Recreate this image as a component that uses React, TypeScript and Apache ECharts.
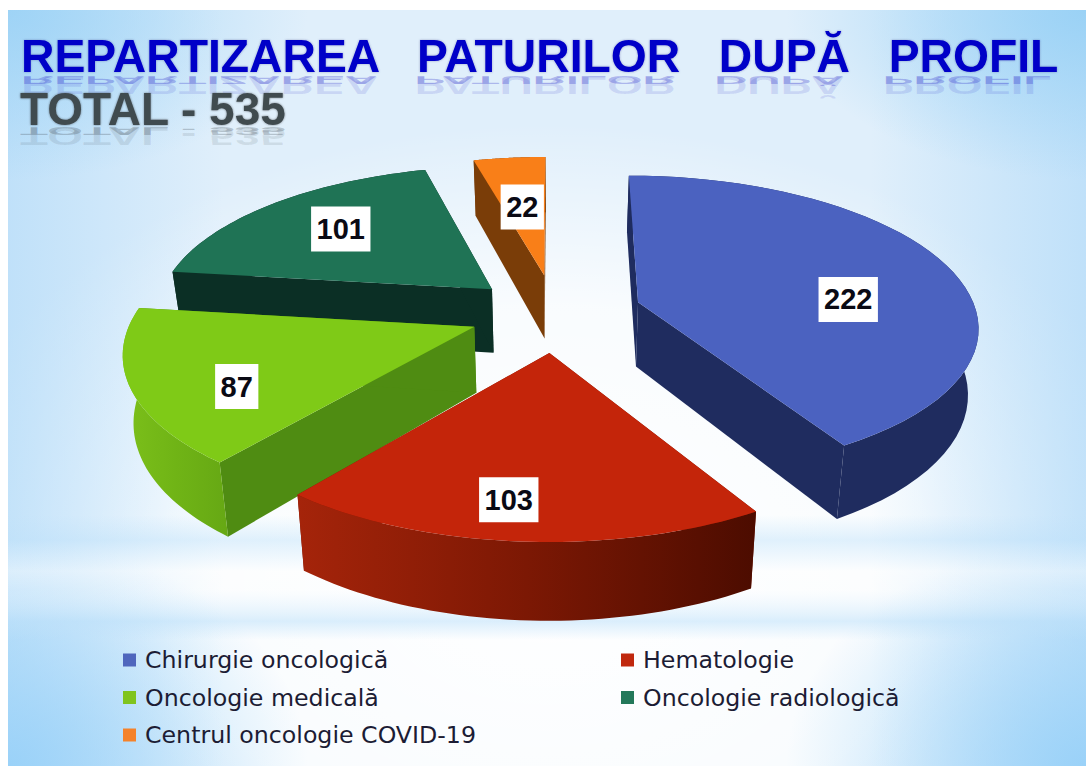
import React, { useEffect, useRef } from "react";
import * as echarts from "echarts";

const categories = ["Chirurgie oncologică", "Hematologie", "Oncologie medicală", "Oncologie radiologică", "Centrul oncologie COVID-19"];
const values = [222, 103, 87, 101, 22];
const titleText = "REPARTIZAREA   PATURILOR   DUPĂ   PROFIL";
const totalText = "TOTAL - 535";

const topColors = ["#4b62c0", "#c4250a", "#7fca17", "#1f7355", "#f97f18"];
const legendColors = ["#4f66bd", "#c0280e", "#80c41e", "#23785a", "#f4822a"];
const sideColors = ["#1f2c5f", "#7a1704", "#4f8c12", "#0b2f25", "#7a3d08"];
const wallFrom = ["#1f2c5f", "#a5240a", "#7cc01a", "#0b2f25", "#7a3d08"];
const wallMid = ["#1f2c5f", "#7c1804", "#70b416", "#0b2f25", "#7a3d08"];
const wallTo = ["#1f2c5f", "#4c0c00", "#66a814", "#0b2f25", "#7a3d08"];
const seriesZ = [1, 3, 2, 1, 1];
const explode = [0.22, 0.22, 0.22, 0.22, 0.22];
const sliceScale = [0.96, 0.97, 0.97, 0.955, 0.94];
const nudgeX = [9, 0, -8, -6, -1];
const nudgeY = [-7, 0, -4, -7, -10];
const labelAngles = [88.3, 187, 240, 312.3, 352];
const labelRadii = [0.63, 0.81, 0.736, 0.678, 0.55];

const CX = 555, CY = 318, RX = 352, RY = 154, PERS = 0.15, DEPTH = 65, SHRINK = 0.975;
const total = values.reduce((a, b) => a + b, 0);
const rad = (d: number) => (d * Math.PI) / 180;

function project(X: number, Y: number) {
  const s = 1 / (1 + PERS * Y);
  return { x: CX + RX * X * s, y: CY - RY * Y * s, s };
}
function lower(p: { x: number; y: number; s: number }) {
  return [CX + (p.x - CX) * SHRINK, p.y + DEPTH * Math.pow(p.s, 0.95)];
}

function sliceItem(i: number) {
  return (_params: any, api: any) => {
    const v = api.value(0);
    let acc = 0;
    for (let k = 0; k < i; k++) acc += values[k];
    const a0 = (acc / total) * 360;
    const a1 = a0 + (v / total) * 360;
    const mid = rad((a0 + a1) / 2);
    const ox = explode[i] * Math.sin(mid), oy = explode[i] * Math.cos(mid);
    const base = project(ox, oy);
    const place = (p: any) => ({
      x: base.x + nudgeX[i] + sliceScale[i] * (p.x - base.x),
      y: base.y + nudgeY[i] + sliceScale[i] * (p.y - base.y),
      s: p.s,
    });
    const arc: any[] = [];
    for (let a = a0; a <= a1 + 1e-6; a += (a1 - a0) / 48) {
      arc.push(place(project(ox + Math.sin(rad(a)), oy + Math.cos(rad(a)))));
    }
    const apex = place(base);
    const P = (p: any) => [p.x, p.y];
    const first = arc[0], last = arc[arc.length - 1];
    const wall = [...arc.map(P), ...arc.slice().reverse().map(lower)];
    const la = rad(labelAngles[i]);
    const lp = place(project(ox + labelRadii[i] * Math.sin(la), oy + labelRadii[i] * Math.cos(la)));
    return {
      type: "group",
      children: [
        { type: "polygon", shape: { points: [P(apex), P(first), lower(first), lower(apex)] }, style: { fill: sideColors[i] } },
        { type: "polygon", shape: { points: [P(apex), P(last), lower(last), lower(apex)] }, style: { fill: sideColors[i] } },
        { type: "polygon", shape: { points: wall }, style: { fill: new echarts.graphic.LinearGradient(0, 0, 1, 0, [{ offset: 0, color: wallFrom[i] }, { offset: 0.5, color: wallMid[i] }, { offset: 1, color: wallTo[i] }]) } },
        { type: "polygon", shape: { points: [P(apex), ...arc.map(P)] }, style: { fill: topColors[i] } },
        {
          type: "text", x: lp.x, y: lp.y, z2: 50,
          style: { text: String(v), font: "bold 29px 'Liberation Sans'", fill: "#0a0a14", align: "center", verticalAlign: "middle", backgroundColor: "#fff", padding: [9, 5.5, 7, 5.5] },
        },
      ],
    };
  };
}

export default function App() {
  const ref = useRef<HTMLDivElement>(null);
  useEffect(() => {
    document.body.style.margin = "0";
    const chart = echarts.init(ref.current!, undefined, { renderer: "svg" });
    const W = 1078, H = 756;
    const full = { x: 8, y: 10, width: W, height: H };
    const bg = (z: number, shape: any, fill: any) => ({ type: "rect", z, silent: true, shape, style: { fill } });
    const lin = (x: number, y: number, x2: number, y2: number, stops: [number, string][]) =>
      new echarts.graphic.LinearGradient(x, y, x2, y2, stops.map(([offset, color]) => ({ offset, color })));
    const corner = (z: number, x: number, y: number, w: number, h: number, cx: number, cy: number, c: string) =>
      bg(z, { x, y, width: w, height: h }, new echarts.graphic.RadialGradient(cx, cy, 1, [{ offset: 0, color: c }, { offset: 1, color: c.replace(/[\d.]+\)$/, "0)") }]));
    const reflect = (text: string, x: number, base: number, rgb: string, s: number, a: number) => ({
      type: "text", x, y: base - 6 * s, scaleY: -s, z: 1, silent: true,
      style: { text, font: "bold 46px 'Liberation Sans'", verticalAlign: "bottom", fill: `rgba(${rgb},${a})` },
    });
    chart.setOption({
      animation: false,
      backgroundColor: "#fff",
      title: [
        { text: titleText, left: 21, top: 33, padding: 0, textStyle: { fontFamily: "Liberation Sans", fontWeight: "bold", fontSize: 46.3, color: "#0000c8", textShadowColor: "rgba(40,40,120,.4)", textShadowBlur: 2 } },
        { text: totalText, left: 20, top: 86, padding: 0, textStyle: { fontFamily: "Liberation Sans", fontWeight: "bold", fontSize: 46, color: "#414b50", textShadowColor: "rgba(30,30,30,.45)", textShadowBlur: 2 } },
      ],
      legend: [
        { data: [categories[0], categories[2], categories[4]], left: 118, top: 643, orient: "vertical", itemWidth: 13, itemHeight: 13, itemGap: 13.5, icon: "rect", textStyle: { fontFamily: "DejaVu Sans", fontSize: 23.7, color: "#1c1c34", padding: [0, 0, 0, 4] }, selectedMode: false },
        { data: [categories[1], categories[3]], left: 616, top: 643, orient: "vertical", itemWidth: 13, itemHeight: 13, itemGap: 13.5, icon: "rect", textStyle: { fontFamily: "DejaVu Sans", fontSize: 23.7, color: "#1c1c34", padding: [0, 0, 0, 4] }, selectedMode: false },
      ],
      graphic: [
        bg(-20, full, "#e0effb"),
        bg(-19, full, new echarts.graphic.RadialGradient(0.5, 0.75, 0.6, [{ offset: 0, color: "rgba(255,255,255,1)" }, { offset: 0.6, color: "rgba(255,255,255,.8)" }, { offset: 1, color: "rgba(255,255,255,0)" }])),
        bg(-18, full, lin(0, 0, 1, 0, [[0, "rgba(170,215,248,.6)"], [0.2, "rgba(170,215,248,0)"], [0.8, "rgba(170,215,248,0)"], [1, "rgba(170,215,248,.6)"]])),
        corner(-17, 8, 10, 300, 170, 0, 0, "rgba(150,208,245,.8)"),
        corner(-17, 786, 10, 300, 170, 1, 0, "rgba(150,208,245,.9)"),
        corner(-17, 8, 540, 300, 226, 0, 1, "rgba(150,208,248,.9)"),
        corner(-17, 786, 540, 300, 226, 1, 1, "rgba(150,208,248,.9)"),
        bg(-16, { x: 8, y: 515, width: W, height: 125 }, lin(0, 0, 0, 1, [[0, "rgba(190,225,250,0)"], [0.2, "rgba(190,225,250,.45)"], [0.45, "rgba(255,255,255,.45)"], [0.6, "rgba(255,255,255,.3)"], [0.85, "rgba(190,225,250,.55)"], [1, "rgba(190,225,250,0)"]])),
        reflect(titleText, 21, 76, "40,40,200", 0.5, 0.12),
        reflect(titleText, 21, 76, "40,40,200", 0.25, 0.28),
        reflect(totalText, 20, 127, "70,80,90", 0.5, 0.12),
        reflect(totalText, 20, 127, "70,80,90", 0.25, 0.28),
      ],
      series: categories.map((name, i) => ({
        type: "custom",
        name,
        coordinateSystem: "none",
        z: seriesZ[i] + 2,
        silent: true,
        itemStyle: { color: legendColors[i] },
        renderItem: sliceItem(i),
        data: [[values[i]]],
      })),
    });
    return () => chart.dispose();
  }, []);
  return <div ref={ref} style={{ position: "absolute", left: 0, top: 0, width: 1086, height: 766 }} />;
}
